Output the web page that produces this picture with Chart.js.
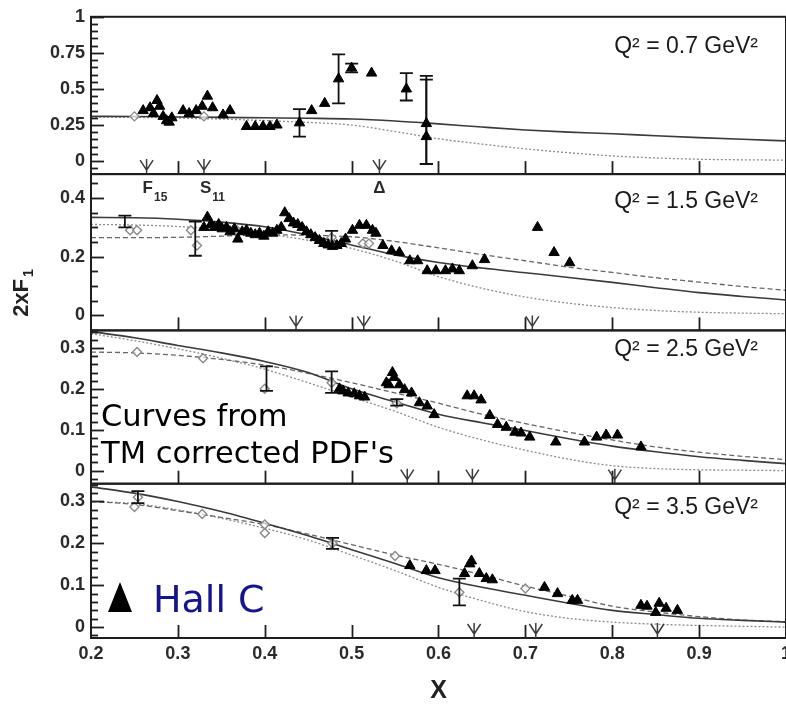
<!DOCTYPE html>
<html><head><meta charset="utf-8">
<script src="https://cdn.jsdelivr.net/npm/chart.js@4"></script>
<style>
html,body{margin:0;padding:0;background:#fff;overflow:hidden;width:786px;height:707px}
canvas{display:block}
</style></head>
<body>
<canvas id="c" width="800" height="707" style="width:800px;height:707px"></canvas>
<script>
// ================= DATA =================
const xCurve = [0.2,0.25,0.3,0.35,0.4,0.45,0.5,0.55,0.6,0.65,0.7,0.75,0.8,0.85,0.9,0.95,1.0];
const q2Labels = ['Q² = 0.7 GeV²','Q² = 1.5 GeV²','Q² = 2.5 GeV²','Q² = 3.5 GeV²'];
const xTickStep = 0.1;
const yMin = [-0.09, -0.052, -0.032, -0.026];
const yMax = [1.0, 0.482, 0.343, 0.3425];
const yMajorStep = [0.25, 0.2, 0.1, 0.1];
const yMinorStep = [0.05, 0.05, 0.02, 0.02];

// TM-corrected PDF curves
const p1Solid  = [0.31,0.309,0.306,0.303,0.3,0.297,0.292,0.278,0.258,0.236,0.216,0.201,0.19,0.176,0.163,0.151,0.14];
const p1Dotted = [0.305,0.303,0.298,0.291,0.281,0.268,0.25,0.205,0.155,0.118,0.085,0.058,0.036,0.022,0.013,0.009,0.007];
const p2Solid  = [0.334,0.333,0.328,0.318,0.302,0.274,0.24,0.206,0.18,0.161,0.145,0.129,0.112,0.094,0.077,0.064,0.052];
const p2Dashed = [0.265,0.265,0.266,0.27,0.275,0.273,0.268,0.252,0.23,0.207,0.186,0.164,0.146,0.128,0.113,0.098,0.085];
const p2Dotted = [0.31,0.308,0.303,0.293,0.278,0.256,0.228,0.185,0.132,0.092,0.062,0.041,0.026,0.016,0.01,0.007,0.005];
const p3Solid  = [0.34,0.325,0.306,0.288,0.267,0.24,0.2,0.168,0.138,0.117,0.098,0.078,0.06,0.046,0.034,0.025,0.017];
const p3Dashed = [0.29,0.288,0.282,0.272,0.258,0.238,0.215,0.19,0.165,0.138,0.115,0.094,0.075,0.058,0.045,0.035,0.027];
const p3Dotted = [0.335,0.318,0.298,0.275,0.248,0.215,0.18,0.145,0.106,0.075,0.05,0.028,0.012,0.005,0.002,0.001,0.0];
const p4Solid  = [0.335,0.32,0.3,0.276,0.248,0.218,0.185,0.152,0.118,0.095,0.076,0.057,0.04,0.03,0.021,0.016,0.012];
const p4Dashed = [0.3,0.293,0.278,0.262,0.245,0.222,0.197,0.172,0.15,0.125,0.098,0.074,0.05,0.036,0.025,0.017,0.013];
const p4Dotted = [0.3,0.295,0.28,0.26,0.236,0.208,0.172,0.135,0.095,0.063,0.037,0.021,0.012,0.007,0.004,0.002,0.0];

// Hall C data (x, 2xF1)
const p1HallC = [[0.26,0.35],[0.268,0.37],[0.272,0.33],[0.276,0.42],[0.279,0.38],[0.283,0.31],[0.287,0.28],[0.29,0.27],[0.293,0.30],
  [0.306,0.35],[0.313,0.33],[0.321,0.35],[0.328,0.38],[0.334,0.45],[0.34,0.37],[0.352,0.32],[0.36,0.35],
  [0.379,0.24],[0.389,0.24],[0.398,0.24],[0.406,0.24],[0.414,0.25],
  [0.44,0.265],[0.454,0.35],[0.469,0.40],[0.485,0.57],[0.50,0.645],[0.523,0.61],[0.563,0.50],[0.586,0.26],[0.586,0.17]];
const p2HallC = [[0.33,0.30],[0.334,0.335],[0.338,0.31],[0.342,0.30],[0.347,0.31],[0.351,0.295],[0.356,0.30],[0.36,0.285],[0.365,0.295],
  [0.369,0.26],[0.374,0.285],[0.379,0.29],[0.384,0.28],[0.389,0.275],[0.394,0.28],[0.399,0.27],[0.404,0.285],[0.409,0.28],
  [0.414,0.29],[0.419,0.30],[0.423,0.35],[0.428,0.33],[0.433,0.315],[0.438,0.31],[0.443,0.30],[0.448,0.285],[0.453,0.275],
  [0.458,0.265],[0.463,0.255],[0.468,0.245],[0.473,0.24],[0.478,0.235],[0.483,0.238],[0.488,0.245],[0.493,0.26],
  [0.501,0.29],[0.509,0.307],[0.517,0.307],[0.524,0.29],[0.528,0.28],[0.536,0.238],[0.546,0.22],[0.555,0.214],
  [0.567,0.186],[0.576,0.186],[0.587,0.152],[0.597,0.152],[0.608,0.152],[0.616,0.158],[0.624,0.152],[0.639,0.169],
  [0.653,0.19],[0.714,0.30],[0.733,0.214],[0.751,0.179]];
const p3HallC = [[0.486,0.2],[0.49,0.195],[0.496,0.19],[0.503,0.188],[0.509,0.183],[0.515,0.18],[0.54,0.215],[0.543,0.21],[0.547,0.24],
  [0.549,0.228],[0.555,0.21],[0.561,0.198],[0.569,0.19],[0.578,0.166],[0.587,0.158],[0.595,0.137],[0.633,0.183],
  [0.641,0.183],[0.649,0.173],[0.659,0.135],[0.668,0.113],[0.678,0.106],[0.688,0.094],[0.695,0.092],[0.705,0.082],
  [0.735,0.07],[0.768,0.07],[0.782,0.082],[0.793,0.087],[0.806,0.087],[0.833,0.058]];
const p4HallC = [[0.567,0.147],[0.586,0.135],[0.596,0.135],[0.63,0.128],[0.636,0.151],[0.638,0.158],[0.647,0.128],[0.655,0.116],
  [0.662,0.113],[0.722,0.095],[0.737,0.08],[0.754,0.064],[0.76,0.064],[0.833,0.052],[0.84,0.05],[0.85,0.035],
  [0.854,0.057],[0.862,0.045],[0.875,0.04]];

// other data (open symbols)
const p1Open = [[0.25,0.31],[0.33,0.31]];
const p2Open = [[0.245,0.29],[0.253,0.29],[0.315,0.29],[0.322,0.238],[0.368,0.29],[0.477,0.265],[0.513,0.245],[0.52,0.245]];
const p3Open = [[0.253,0.29],[0.329,0.275],[0.40,0.2],[0.477,0.215],[0.552,0.165]];
const p4Open = [[0.254,0.31],[0.25,0.287],[0.328,0.27],[0.40,0.245],[0.40,0.225],[0.478,0.2],[0.55,0.17],[0.624,0.083],[0.7,0.092]];

// error bars: [x, low, high]
const p1Err = [[0.44,0.17,0.36],[0.485,0.40,0.74],[0.50,0.615,0.675],[0.563,0.42,0.61],[0.586,-0.02,0.59],[0.586,-0.02,0.565]];
const p2Err = [[0.239,0.30,0.34],[0.32,0.203,0.32],[0.477,0.243,0.288]];
const p3Err = [[0.402,0.195,0.255],[0.477,0.19,0.243],[0.552,0.159,0.175]];
const p4Err = [[0.254,0.296,0.325],[0.478,0.187,0.213],[0.624,0.052,0.116]];

// resonance positions per panel
const p1Res = [0.264, 0.330, 0.532];
const p2Res = [0.436, 0.514, 0.708];
const p3Res = [0.564, 0.639, 0.803];
const p4Res = [0.641, 0.712, 0.852];
const resNames = [['F','15'],['S','11'],['Δ','']];

// ================= CHART =================
const panelIds = ['y1','y2','y3','y4'];
const panels = [
  {tri:p1HallC, open:p1Open, err:p1Err, solid:p1Solid, dashed:null,     dotted:p1Dotted, res:p1Res},
  {tri:p2HallC, open:p2Open, err:p2Err, solid:p2Solid, dashed:p2Dashed, dotted:p2Dotted, res:p2Res},
  {tri:p3HallC, open:p3Open, err:p3Err, solid:p3Solid, dashed:p3Dashed, dotted:p3Dotted, res:p3Res},
  {tri:p4HallC, open:p4Open, err:p4Err, solid:p4Solid, dashed:p4Dashed, dotted:p4Dotted, res:p4Res}
];
const pts = a => a.map(p => ({x:p[0], y:p[1]}));
const curve = v => xCurve.map((x,i) => ({x, y:v[i]}));
const isMult = (v, s) => Math.abs(v/s - Math.round(v/s)) < 1e-6;

const datasets = [];
panels.forEach((p, i) => {
  const id = panelIds[i];
  datasets.push({label:'Hall C', data:pts(p.tri), yAxisID:id, showLine:false, pointStyle:'triangle',
    pointRadius:6, backgroundColor:'#000', borderColor:'#000', borderWidth:1, order:0});
  p.err.forEach(e => datasets.push({label:'err', data:[{x:e[0],y:e[1]},{x:e[0],y:e[2]}], yAxisID:id,
    showLine:true, borderColor:'#111', borderWidth:1.8, pointStyle:'line', pointRadius:6.5,
    pointBorderWidth:1.8, pointBorderColor:'#111', order:1}));
  datasets.push({label:'other', data:pts(p.open), yAxisID:id, showLine:false, pointStyle:'rectRot',
    pointRadius:4.5, backgroundColor:'rgba(255,255,255,0.7)', borderColor:'#8a8a8a', borderWidth:1.4, order:2});
  datasets.push({label:'solid', data:curve(p.solid), yAxisID:id, showLine:true, pointRadius:0,
    borderColor:'#3a3a3a', borderWidth:1.6, cubicInterpolationMode:'monotone', order:3});
  if (p.dashed) datasets.push({label:'dashed', data:curve(p.dashed), yAxisID:id, showLine:true, pointRadius:0,
    borderColor:'#666', borderWidth:1.3, borderDash:[5,3], cubicInterpolationMode:'monotone', order:3});
  datasets.push({label:'dotted', data:curve(p.dotted), yAxisID:id, showLine:true, pointRadius:0,
    borderColor:'#8c8c8c', borderWidth:1.3, borderDash:[2,2], cubicInterpolationMode:'monotone', order:3});
});

const tickFont = {family:'Liberation Sans', size:18, weight:'bold'};
const scales = {
  x: {type:'linear', position:'bottom', min:0.2, max:1.0,
    grid:{display:false, drawTicks:false}, border:{display:false},
    ticks:{stepSize:xTickStep, autoSkip:false, maxRotation:0, padding:5, color:'#2a2a2a', font:tickFont,
      callback:v => (Math.abs(v-1)<1e-9 ? '1' : v.toFixed(1))},
    title:{display:true, text:'X', color:'#222', font:{family:'Liberation Sans', size:25, weight:'bold'}, padding:{top:0,bottom:1}},
    afterFit:s => { s.height = 69; }
  }
};
const stackW = [157,156,153,154];
panelIds.forEach((id, i) => {
  scales[id] = {type:'linear', position:'left', stack:'panels', stackWeight:stackW[i], weight:4-i,
    min:yMin[i], max:yMax[i], grid:{display:false, drawTicks:false}, border:{display:false},
    ticks:{stepSize:yMinorStep[i], includeBounds:false, autoSkip:false, padding:6, color:'#2a2a2a', font:tickFont,
      callback:v => isMult(v, yMajorStep[i]) ? String(+v.toFixed(2)) : ''},
    afterFit:s => { s.width = 91; }
  };
});

const overlay = {
  id:'overlay',
  afterDatasetsDraw(chart) {
    const ctx = chart.ctx, xs = chart.scales.x;
    ctx.save();
    panelIds.forEach((id, i) => {
      const ys = chart.scales[id];
      ctx.strokeStyle = '#1e1e1e'; ctx.lineWidth = 2;
      ctx.strokeRect(xs.left, ys.top, xs.right - xs.left, ys.bottom - ys.top);
      ctx.lineWidth = 1.8;
      ys.ticks.forEach(t => {
        const y = Math.round(ys.getPixelForValue(t.value)) + 0.5;
        const len = isMult(t.value, yMajorStep[i]) ? 13 : 7;
        ctx.beginPath(); ctx.moveTo(xs.left, y); ctx.lineTo(xs.left + len, y); ctx.stroke();
      });
      xs.ticks.forEach(t => {
        if (t.value <= xs.min + 1e-9 || t.value >= xs.max - 1e-9) return;
        const x = Math.round(xs.getPixelForValue(t.value)) + 0.5;
        ctx.beginPath(); ctx.moveTo(x, ys.bottom); ctx.lineTo(x, ys.bottom - 13); ctx.stroke();
      });
      ctx.strokeStyle = '#3c3c3c'; ctx.lineWidth = 1.5;
      panels[i].res.forEach(v => {
        const x = xs.getPixelForValue(v), b = ys.bottom;
        ctx.beginPath();
        ctx.moveTo(x, b); ctx.lineTo(x, b - 15);
        ctx.moveTo(x - 6.5, b - 14); ctx.lineTo(x, b - 4); ctx.lineTo(x + 6.5, b - 14);
        ctx.stroke();
      });
      const qOff = [36, 34, 26, 30];
      ctx.fillStyle = '#1a1a1a'; ctx.font = '23px "Liberation Sans"';
      ctx.textAlign = 'right'; ctx.textBaseline = 'alphabetic';
      ctx.fillText(q2Labels[i], 758, ys.top + qOff[i]);
    });
    const y2 = chart.scales.y2;
    ctx.fillStyle = '#2a2a2a'; ctx.textAlign = 'left'; ctx.textBaseline = 'alphabetic';
    p1Res.forEach((v, k) => {
      const x = xs.getPixelForValue(v);
      const [m, s] = resNames[k];
      ctx.font = 'bold 17px "Liberation Sans"';
      const w = ctx.measureText(m).width;
      const x0 = s ? x - 4 : x - w/2;
      ctx.fillText(m, x0, y2.top + 19);
      if (s) { ctx.font = 'bold 12px "Liberation Sans"'; ctx.fillText(s, x0 + w + 1, y2.top + 27); }
    });
    ctx.save();
    ctx.translate(22, 293); ctx.rotate(-Math.PI/2);
    ctx.fillStyle = '#222'; ctx.textBaseline = 'middle';
    ctx.font = 'bold 22px "Liberation Sans"';
    const wm = ctx.measureText('2xF').width;
    ctx.font = 'bold 14px "Liberation Sans"';
    const ws = ctx.measureText('1').width;
    const st = -(wm + ws + 2)/2;
    ctx.font = 'bold 22px "Liberation Sans"'; ctx.fillText('2xF', st, 0);
    ctx.font = 'bold 14px "Liberation Sans"'; ctx.fillText('1', st + wm + 2, 7);
    ctx.restore();
    const y3 = chart.scales.y3;
    ctx.fillStyle = '#000'; ctx.textAlign = 'left';
    ctx.font = '30.5px "DejaVu Sans"';
    ctx.fillText('Curves from', 101, y3.bottom - 58);
    ctx.fillText("TM corrected PDF's", 101, y3.bottom - 21);
    const y4 = chart.scales.y4;
    const lb = y4.bottom - 26;
    ctx.beginPath(); ctx.moveTo(120, lb - 30); ctx.lineTo(132, lb); ctx.lineTo(108, lb); ctx.closePath();
    ctx.fillStyle = '#000'; ctx.fill();
    ctx.fillStyle = '#14148c'; ctx.font = '38px "DejaVu Sans"';
    ctx.fillText('Hall C', 153, lb);
    ctx.restore();
  }
};

new Chart(document.getElementById('c'), {
  type:'scatter',
  data:{datasets},
  options:{
    responsive:false, animation:false, events:[],
    layout:{padding:{top:11, right:14, bottom:0, left:0}},
    plugins:{legend:{display:false}, tooltip:{enabled:false}, title:{display:false}},
    scales
  },
  plugins:[overlay]
});
</script>
</body></html>
